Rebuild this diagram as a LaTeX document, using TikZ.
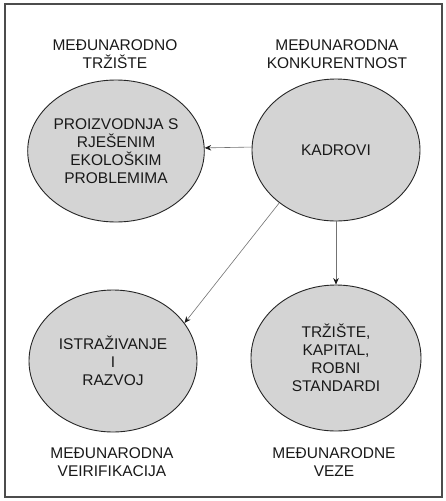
\documentclass[tikz,border=0pt]{standalone}
\usepackage{fontspec}
\setmainfont{Liberation Sans}
\usetikzlibrary{arrows.meta,shapes.geometric}
\begin{document}
\begin{tikzpicture}[x=1pt,y=-1pt,
  bubble/.style={draw=black!85,line width=0.9pt,fill=black!17,ellipse,inner sep=0pt,
     align=center,font=\fontsize{15.5}{18}\selectfont,text=black!90},
  lbl/.style={align=center,font=\fontsize{15.5}{18}\selectfont,text=black!90},
  conn/.style={draw=black!55,line width=0.6pt,-{Stealth[length=6.5pt,width=5.5pt,black!90]}}]
\useasboundingbox (0,0) rectangle (446,501);
\fill[white] (0,0) rectangle (446,501);
\draw[black!70,line width=1.2pt] (5,4) rectangle (442,497);
% ellipses
\node[bubble,minimum width=166pt,minimum height=142pt] (prod) at (116,151) {PROIZVODNJA S\\RJEŠENIM\\EKOLOŠKIM\\PROBLEMIMA};
\node[bubble,minimum width=168pt,minimum height=142pt] (kad) at (336,150) {KADROVI};
\node[bubble,minimum width=168pt,minimum height=142pt] (ist) at (113,361) {ISTRAŽIVANJE\\I\\RAZVOJ};
\node[bubble,minimum width=170pt,minimum height=146pt] (trz) at (336,358) {TRŽIŠTE,\\KAPITAL,\\ROBNI\\STANDARDI};
% outer labels
\node[lbl] (o1) at (115,54) {MEĐUNARODNO\\TRŽIŠTE};
\node[lbl] (o2) at (337,54) {MEĐUNARODNA\\KONKURENTNOST};
\node[lbl] (o3) at (112,462) {MEĐUNARODNA\\VEIRIFIKACIJA};
\node[lbl] (o4) at (334,462) {MEĐUNARODNE\\VEZE};
% connectors
\draw[conn] (kad.178) -- (prod.2.5);
\draw[conn] (kad.-137) -- (ist.28);
\draw[conn] (kad.south) -- (trz.north);
\end{tikzpicture}
\end{document}
